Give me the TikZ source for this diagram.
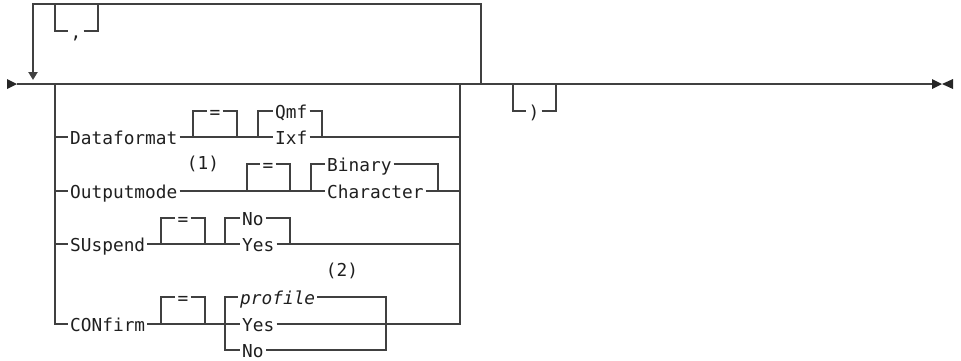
\documentclass[tikz,border=0pt]{standalone}
\usepackage{fontspec}
\setmonofont{DejaVu Sans Mono}
\usetikzlibrary{arrows.meta}

\tikzset{
	rail/.style={line width=2pt, color=black!75},
	kw/.style={font=\ttfamily\fontsize{17.8}{20}\selectfont, color=black!88, inner xsep=2pt, inner ysep=0pt, text height=14pt, text depth=0pt, anchor=west},
	sym/.style={kw, anchor=center},
	note/.style={font=\ttfamily\fontsize{17.8}{20}\selectfont, color=black!88, inner sep=0pt},
}

\begin{document}
\begin{tikzpicture}[x=1pt, y=-1pt]
			%%%%% START %%%%%
			\useasboundingbox (0, 0) rectangle (961, 360);
			
			\coordinate (start) at (17, 84);
			\coordinate (stop) at (932, 84);
			\coordinate (loopR) at (481, 84);
			\coordinate (loopL) at (33, 80);
			
			\node[sym] (comma) at (76, 31) {,};
			\node[sym] (rpar) at (534, 111) {)};
			
			\node[kw] (dfmt) at (68, 137) {Dataformat};
			\node[sym] (eqA) at (215, 111) {=};
			\node[kw] (qmf) at (273, 111) {Qmf};
			\node[kw] (ixf) at (273, 137) {Ixf};
			
			\node[kw] (omode) at (68, 191) {Outputmode};
			\node[note] (noteA) at (203, 164) {(1)};
			\node[sym] (eqB) at (268, 164) {=};
			\node[kw] (bin) at (325, 164) {Binary};
			\node[kw] (chr) at (325, 191) {Character};
			
			\node[kw] (susp) at (68, 244) {SUspend};
			\node[sym] (eqC) at (183, 218) {=};
			\node[kw] (sno) at (240, 218) {No};
			\node[kw] (syes) at (240, 244) {Yes};
			
			\node[kw] (conf) at (68, 324) {CONfirm};
			\node[sym] (eqD) at (183, 297) {=};
			\node[note] (noteB) at (342, 271) {(2)};
			\node[kw, font=\ttfamily\itshape\fontsize{17.8}{20}\selectfont] (prof) at (238, 297) {profile};
			\node[kw] (cyes) at (240, 324) {Yes};
			\node[kw] (cno) at (240, 350) {No};
			
			% main line and ends
			\draw[rail] (start) -- (stop);
			\fill[black!85] (7, 79) -- (start) -- (7, 89) -- cycle;
			\fill[black!85] (932, 79) -- (942, 84) -- (932, 89) -- cycle;
			\fill[black!85] (953, 79) -- (942, 84) -- (953, 89) -- cycle;
			
			% repeat loop
			\draw[rail, -{Triangle[width=9pt, length=8pt]}] (loopR) |- (33, 4) -- (loopL);
			\draw[rail] (55, 4) |- (comma.west);
			\draw[rail] (comma.east) -| (98, 4);
			
			% choice block
			\draw[rail] (55, 84) |- (conf.west);
			\draw[rail] (cyes.east) -| (460, 84);
			
			\draw[rail] (55, 137) -- (dfmt.west);
			\draw[rail] (dfmt.east) -- (ixf.west);
			\draw[rail] (193, 137) |- (eqA.west);
			\draw[rail] (eqA.east) -| (237, 137);
			\draw[rail] (258, 137) |- (qmf.west);
			\draw[rail] (qmf.east) -| (322, 137);
			\draw[rail] (ixf.east) -- (460, 137);
			
			\draw[rail] (55, 191) -- (omode.west);
			\draw[rail] (omode.east) -- (chr.west);
			\draw[rail] (247, 191) |- (eqB.west);
			\draw[rail] (eqB.east) -| (290, 191);
			\draw[rail] (311, 191) |- (bin.west);
			\draw[rail] (bin.east) -| (438, 191);
			\draw[rail] (chr.east) -- (460, 191);
			
			\draw[rail] (55, 244) -- (susp.west);
			\draw[rail] (susp.east) -- (syes.west);
			\draw[rail] (161, 244) |- (eqC.west);
			\draw[rail] (eqC.east) -| (205, 244);
			\draw[rail] (225, 244) |- (sno.west);
			\draw[rail] (sno.east) -| (290, 244);
			\draw[rail] (syes.east) -- (460, 244);
			
			\draw[rail] (conf.east) -- (cyes.west);
			\draw[rail] (161, 324) |- (eqD.west);
			\draw[rail] (eqD.east) -| (205, 324);
			\draw[rail] (225, 324) |- (prof.west);
			\draw[rail] (225, 324) |- (cno.west);
			\draw[rail] (prof.east) -| (386, 350) -- (cno.east);
			
			% closing parenthesis
			\draw[rail] (513, 84) |- (rpar.west);
			\draw[rail] (rpar.east) -| (556, 84);
			
			%%%%% END %%%%%
\end{tikzpicture}
\end{document}
